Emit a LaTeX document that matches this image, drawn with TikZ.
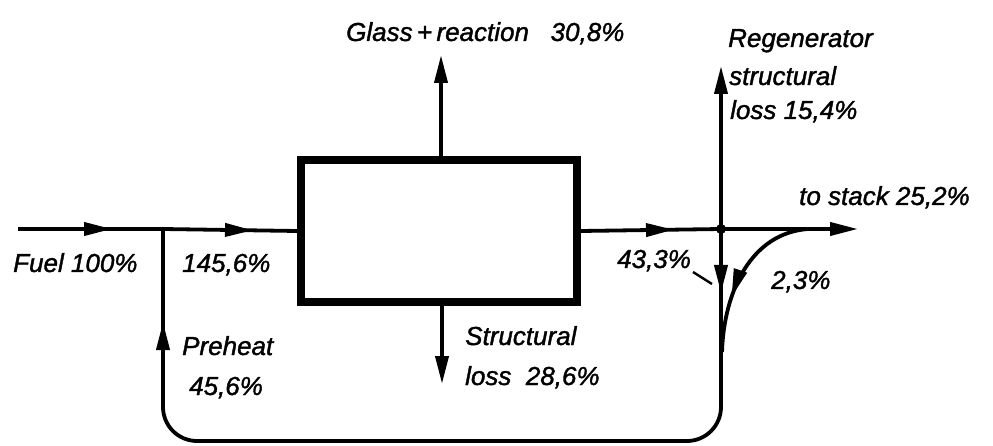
\documentclass[tikz,border=0pt]{standalone}
\usepackage{fontspec}
\setmainfont{Liberation Sans}
\newfontfamily\handfont{Liberation Sans}[ItalicFeatures={FakeBold=1.4}]
\usetikzlibrary{arrows.meta,decorations.markings}
\begin{document}
\begin{tikzpicture}[x=1pt,y=-1pt,
  flow/.style={line width=3.8pt, line join=round},
  tipA/.style={-{Triangle[length=28pt,width=13pt]}},
  midarrow/.style={postaction={decorate},
    decoration={markings, mark=at position #1 with {\arrow{Triangle[length=28pt,width=13pt]}}}},
  lbl/.style={font=\handfont\itshape\fontsize{26}{30}\selectfont, inner sep=0pt, anchor=base west}
]
\useasboundingbox (0,0) rectangle (993,446);

% furnace box
\node[draw, line width=8pt, minimum width=276pt, minimum height=142pt, inner sep=0pt] (box) at (439,231) {};

% coordinates
\coordinate (fuel)   at (18,229);
\coordinate (jl)     at (163,229);
\coordinate (jr)     at (721,229);
\coordinate (stack)  at (858,229);
\coordinate (regtop) at (721,66);
\coordinate (glass)  at (441,55);
\coordinate (sloss)  at (442,384);
\coordinate (bot)    at (440,441);
\coordinate (tap)    at (808,229);
\coordinate (tapend) at (722,352);
\coordinate (tickA)  at (693,272);
\coordinate (tickB)  at (712,284);

% main flow
\draw[flow, midarrow=94pt] (fuel) -- (jl);
\draw[flow, midarrow=90pt] (jl) -- (box.west);
\draw[flow, midarrow=93pt] (box.east) -- (jr);
\draw[flow, tipA] (jr) -- (stack);
\draw[flow, tipA] (jr) -- (regtop);
\draw[flow, tipA] (glass |- box.north) -- (glass);
\draw[flow, tipA] (sloss |- box.south) -- (sloss);

% preheat loop
\draw[flow, rounded corners=34pt, postaction={decorate},
  decoration={markings,
    mark=at position 64pt with {\arrow{Triangle[length=28pt,width=13pt]}},
    mark=at position -93pt with {\arrow{Triangle[length=28pt,width=13pt]}}}]
  (jr) -- (jr |- bot) -- (jl |- bot) -- (jl);

% 2,3% branch
\draw[flow, midarrow=0.66] (tap) .. controls (752,233) and (724,290) .. (tapend);

% junction dot
\fill (jr) circle (5pt);

% leader for 43,3%
\draw[line width=2.4pt] (tickA) -- (tickB);

% labels
\node[lbl] (tglass) at (346,41) {Glass\,+\,reaction\ \ \ 30,8\%};
\node[lbl] (treg1) at (728,47) {Regenerator};
\node[lbl] (treg2) at (729,85) {structural};
\node[lbl] (treg3) at (730,119) {loss 15,4\%};
\node[lbl] (tstack) at (799,205) {to stack 25,2\%};
\node[lbl] (tfuel) at (13,272) {Fuel 100\%};
\node[lbl] (tmix) at (182,272) {145,6\%};
\node[lbl] (tpre1) at (182,355) {Preheat};
\node[lbl] (tpre2) at (189,395) {45,6\%};
\node[lbl] (tstr1) at (465,345) {Structural};
\node[lbl] (tstr2) at (465,385) {loss\ \ 28,6\%};
\node[lbl] (tout) at (617,268) {43,3\%};
\node[lbl] (ttap) at (771,289) {2,3\%};
\end{tikzpicture}
\end{document}
